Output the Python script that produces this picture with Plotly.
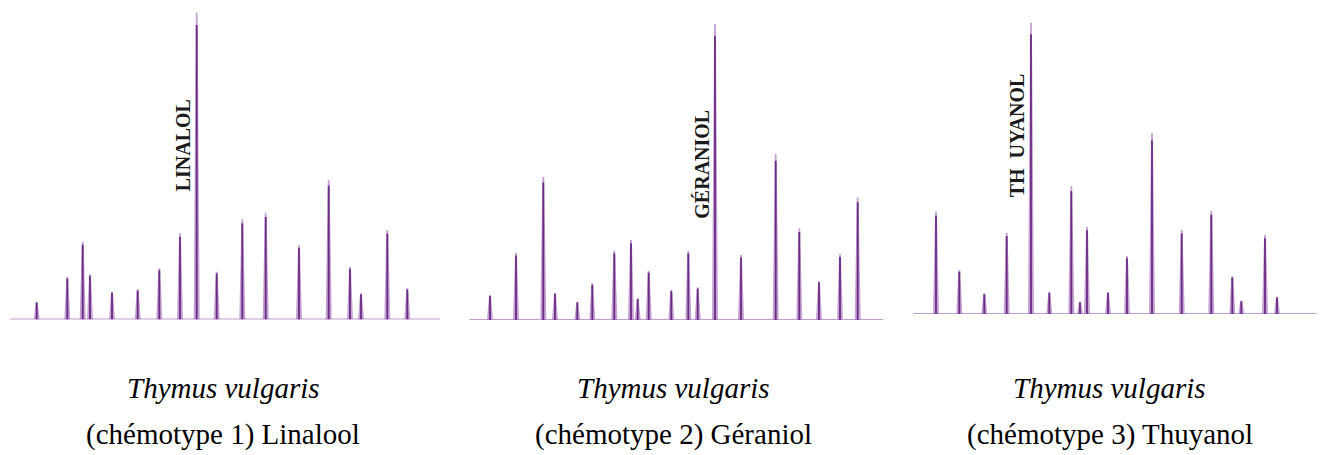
import plotly.graph_objects as go

# ---- data (retention position, peak height) ----
rt1 = [26.7, 57.3, 72.7, 80.0, 102.0, 127.7, 149.3, 170.0, 186.7, 206.7, 232.3,
       255.7, 289.0, 318.7, 340.0, 351.0, 377.3, 397.3]
h1 = [17.8, 42.8, 77.8, 45.2, 27.8, 30.2, 51.2, 86.2, 306.8, 47.8, 100.2,
      106.8, 74.5, 139.5, 52.8, 26.2, 89.5, 31.2]

rt2 = [20.7, 46.7, 74.0, 85.7, 108.0, 123.0, 145.0, 161.7, 168.4, 179.4, 202.0,
       219.0, 228.4, 245.7, 271.7, 306.4, 330.0, 349.7, 370.7, 388.4]
h2 = [25.0, 67.3, 143.3, 27.3, 18.3, 36.7, 69.3, 80.0, 21.7, 49.3, 30.0,
      69.3, 32.7, 296.0, 65.0, 166.0, 91.7, 39.0, 65.7, 122.7]

rt3 = [23.3, 46.6, 71.6, 94.0, 118.3, 136.6, 158.6, 167.3, 174.3, 195.3, 214.3,
       239.3, 269.0, 298.6, 319.6, 328.6, 352.3, 364.3]
h3 = [102.3, 44.0, 20.7, 81.3, 291.3, 22.0, 128.0, 12.3, 87.3, 22.0, 58.0,
      180.7, 84.0, 103.3, 38.0, 13.3, 79.0, 17.3]

peak_labels = ["LINALOL", "GÉRANIOL", "TH\u00a0\u00a0UYANOL"]
label_peak_index = [8, 13, 4]
species = ["Thymus vulgaris", "Thymus vulgaris", "Thymus vulgaris"]
chemotypes = ["(chémotype 1) Linalool", "(chémotype 2) Géraniol",
              "(chémotype 3) Thuyanol"]

x_spans = [430, 414, 404]

# ---- layout geometry (pixels) ----
W, H = 1324, 455
panel_left = [10, 469.3, 912.7]
panel_base = [319.5, 320, 314]
caption_cx = [223, 673.5, 1109.5]
SERIF = "Times New Roman, Liberation Serif, serif"

fig = go.Figure()
series = [(rt1, h1), (rt2, h2), (rt3, h3)]
for i, (rt, hh) in enumerate(series):
    xa = "x" if i == 0 else f"x{i+1}"
    ya = "y" if i == 0 else f"y{i+1}"
    # baseline
    fig.add_trace(go.Scatter(x=[0, x_spans[i]], y=[0, 0], mode="lines",
                             line=dict(color="#c39fd0", width=2),
                             xaxis=xa, yaxis=ya, hoverinfo="skip"))
    # peak bodies (light halo)
    px, py = [], []
    for r, v in zip(rt, hh):
        px += [r - 3.0, r - 0.9, r + 0.9, r + 3.0, r - 3.0, None]
        py += [0, v, v, 0, 0, None]
    fig.add_trace(go.Scatter(x=px, y=py, mode="lines", fill="toself",
                             fillcolor="rgba(172,122,192,0.7)",
                             line=dict(color="rgba(172,122,192,0.0)", width=0),
                             xaxis=xa, yaxis=ya, hoverinfo="skip"))
    # peak cores
    cx, cy = [], []
    for r, v in zip(rt, hh):
        cx += [r, r, None]
        cy += [0, v * 0.96, None]
    fig.add_trace(go.Scatter(x=cx, y=cy, mode="lines",
                             line=dict(color="#6a2b84", width=1.8),
                             xaxis=xa, yaxis=ya, hoverinfo="skip"))

layout = dict(width=W, height=H, margin=dict(l=0, r=0, t=0, b=0),
              paper_bgcolor="white", plot_bgcolor="rgba(0,0,0,0)",
              showlegend=False)
for i in range(3):
    sx = "" if i == 0 else str(i + 1)
    x0 = panel_left[i] / W
    x1 = (panel_left[i] + x_spans[i]) / W
    layout["xaxis" + sx] = dict(domain=[x0, x1], range=[0, x_spans[i]],
                                visible=False, fixedrange=True,
                                anchor="y" + sx)
    layout["yaxis" + sx] = dict(domain=[1 - panel_base[i] / H, 1],
                                range=[0, panel_base[i]], visible=False,
                                fixedrange=True, anchor="x" + sx)
fig.update_layout(**layout)

# label offsets (data units) of each rotated peak name relative to its peak
label_dx = [-13.4, -13.3, -13.7]
label_y = [174.5, 156, 179]
for i in range(3):
    sx = "" if i == 0 else str(i + 1)
    rt, hh = series[i]
    k = label_peak_index[i]
    fig.add_annotation(x=rt[k] + label_dx[i], y=label_y[i],
                       xref="x" + sx, yref="y" + sx,
                       text=peak_labels[i], textangle=-90, showarrow=False,
                       font=dict(family=SERIF, size=20,
                                 color="#1a1a1a", weight="bold"),
                       xanchor="center", yanchor="middle")
    fig.add_annotation(x=caption_cx[i] / W, y=1 - 388 / H, xref="paper",
                       yref="paper", text=f"<i>{species[i]}</i>",
                       showarrow=False,
                       font=dict(family=SERIF, size=29, color="black"),
                       xanchor="center", yanchor="middle")
    fig.add_annotation(x=caption_cx[i] / W, y=1 - 434 / H, xref="paper",
                       yref="paper", text=chemotypes[i], showarrow=False,
                       font=dict(family=SERIF, size=29, color="black"),
                       xanchor="center", yanchor="middle")

fig.write_html("out.html")
